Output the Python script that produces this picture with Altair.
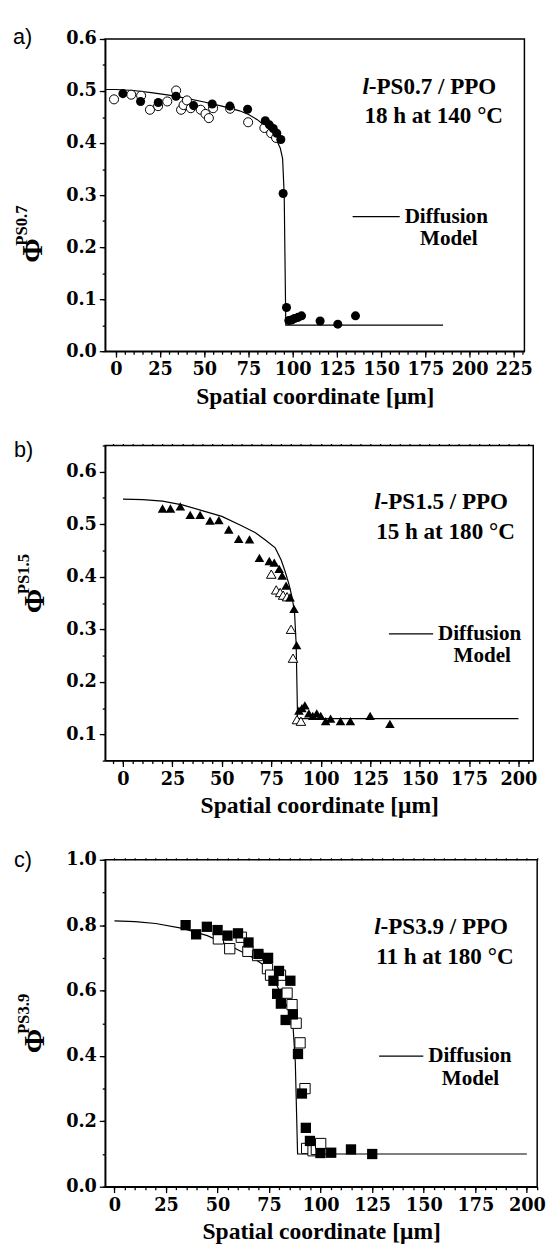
import altair as alt
import pandas as pd

SERIF = "Liberation Serif"
TICKFONT = "DejaVu Serif"
SANS = "Liberation Sans"

# ---------------- Panel a: l-PS0.7 / PPO ----------------
a_curve_x = [-5.5, 0, 10, 20, 30, 40, 50, 60, 70, 75, 80, 85, 88, 91, 93, 94.3, 95.2, 96.1, 185]
a_curve_y = [0.503, 0.503, 0.501, 0.497, 0.492, 0.486, 0.479, 0.471, 0.462, 0.455, 0.445, 0.431,
             0.419, 0.405, 0.390, 0.370, 0.300, 0.050, 0.050]
a_fill_x = [4, 14, 24, 34, 44, 54.5, 64.5, 74.5, 84.5, 86.8, 89, 91, 93.3, 94.6, 96.5, 97.8, 99.3,
            101, 103, 105, 115.5, 125.5, 135.5]
a_fill_y = [0.495, 0.480, 0.478, 0.490, 0.472, 0.475, 0.471, 0.465, 0.443, 0.435, 0.428, 0.419,
            0.407, 0.303, 0.084, 0.059, 0.060, 0.063, 0.065, 0.068, 0.058, 0.052, 0.068]
a_open_x = [-1, 8.7, 14.3, 19.3, 23.9, 29.1, 34.1, 36.9, 38.3, 40.2, 42.4, 48, 50.7, 52.6, 55,
            64.6, 74.8, 84, 87.8, 90.6]
a_open_y = [0.484, 0.493, 0.491, 0.464, 0.471, 0.480, 0.501, 0.464, 0.473, 0.482, 0.467, 0.464,
            0.456, 0.448, 0.467, 0.466, 0.440, 0.429, 0.419, 0.410]

# ---------------- Panel b: l-PS1.5 / PPO ----------------
b_curve_x = [0, 10, 20, 30, 40, 50, 60, 67, 72, 77, 80, 82, 84, 85.7, 86.8, 87.6, 88.3, 200]
b_curve_y = [0.548, 0.547, 0.544, 0.537, 0.526, 0.515, 0.497, 0.484, 0.470, 0.455, 0.432, 0.410,
             0.385, 0.358, 0.330, 0.270, 0.130, 0.130]
b_fill_x = [20, 24, 29, 34, 39, 44, 48.5, 53.5, 58.5, 64, 69, 74, 76.5, 79, 80.5, 82.5, 84.5, 86.5,
            87.8, 89, 90.5, 92, 94, 96, 98, 100, 102.5, 105, 110, 115, 125, 135]
b_fill_y = [0.530, 0.530, 0.534, 0.518, 0.518, 0.507, 0.508, 0.490, 0.472, 0.471, 0.436, 0.430,
            0.427, 0.415, 0.402, 0.383, 0.361, 0.339, 0.270, 0.145, 0.150, 0.155, 0.140, 0.135,
            0.140, 0.135, 0.125, 0.130, 0.125, 0.125, 0.135, 0.120]
b_open_x = [75, 77.5, 79.5, 81, 83, 85, 86, 88, 90]
b_open_y = [0.405, 0.375, 0.370, 0.365, 0.362, 0.300, 0.245, 0.128, 0.125]

# ---------------- Panel c: l-PS3.9 / PPO ----------------
c_curve_x = [0, 10, 20, 33, 45, 55, 66, 72, 76, 80.6, 83, 85.3, 86.5, 87.7, 88.8, 200]
c_curve_y = [0.813, 0.811, 0.805, 0.790, 0.768, 0.740, 0.705, 0.680, 0.655, 0.590, 0.560, 0.530,
             0.500, 0.380, 0.100, 0.100]
c_fill_x = [34.5, 39.6, 44.8, 50, 54.8, 59.9, 65, 69.8, 74.5, 77.1, 78.9, 79.8, 80.7, 83, 85.3,
            86.5, 89, 90.9, 92.8, 94.8, 99.9, 105.1, 114.7, 125]
c_fill_y = [0.800, 0.772, 0.795, 0.785, 0.768, 0.775, 0.747, 0.712, 0.700, 0.630, 0.590, 0.660,
            0.560, 0.510, 0.630, 0.527, 0.406, 0.285, 0.180, 0.140, 0.103, 0.104, 0.114, 0.100]
c_open_x = [50.4, 55.9, 61.5, 64.7, 69.4, 74.2, 75.7, 80.5, 83.7, 86.1, 88.1, 90, 92.4, 93.2,
            96.3, 97.9, 100]
c_open_y = [0.758, 0.728, 0.763, 0.720, 0.707, 0.667, 0.647, 0.647, 0.592, 0.557, 0.500, 0.440,
            0.300, 0.117, 0.110, 0.114, 0.132]

X_TITLE = "Spatial coordinate [μm]"


def steps(lo, hi, step, nd):
    out = []
    k = 0
    while True:
        v = round(lo + k * step, nd)
        if v > hi + 1e-9:
            break
        out.append(v)
        k += 1
    return out


def txt(s, x, y, size=23.5, weight="bold", style="normal", font=SERIF, align="left", angle=0):
    df = pd.DataFrame({"t": [s]})
    kw = dict(font=font, fontSize=size, fontWeight=weight, fontStyle=style, align=align,
              baseline="middle", color="black")
    if angle:
        kw["angle"] = angle
    return alt.Chart(df).mark_text(**kw).encode(x=alt.value(x), y=alt.value(y), text="t:N")


def panel(cx, cy, fx, fy, ox, oy, shape, size, xdom, ydom, w, h, xmaj, xmin, ymaj, ymin,
          yfmt, tag, tag_x, tag_y, l1, l2, tx, ty, lx, ly, mx, phi_sup, phi_x, phi_y, sup_y,
          top_ticks):
    xs = alt.Scale(domain=xdom, nice=False, zero=False)
    ys = alt.Scale(domain=ydom, nice=False, zero=False)
    curve = pd.DataFrame({"x": cx, "y": cy, "i": list(range(len(cx)))})
    filled = pd.DataFrame({"x": fx, "y": fy})
    opened = pd.DataFrame({"x": ox, "y": oy})

    major_x = alt.Axis(orient="bottom", values=xmaj, format="d", title=X_TITLE, tickSize=6,
                       labelPadding=4, titlePadding=6)
    minor_x = alt.Axis(orient="bottom", values=xmin, labels=False, tickSize=3, title=None,
                       domain=False)
    major_y = alt.Axis(orient="left", values=ymaj, format=yfmt, title=None, tickSize=6,
                       labelPadding=3)
    minor_y = alt.Axis(orient="left", values=ymin, labels=False, tickSize=3, title=None,
                       domain=False)

    line = alt.Chart(curve).mark_line(color="black", strokeWidth=1.2).encode(
        x=alt.X("x:Q", scale=xs, axis=major_x),
        y=alt.Y("y:Q", scale=ys, axis=major_y),
        order="i:Q",
    )
    minor = alt.Chart(curve).mark_line(opacity=0).encode(
        x=alt.X("x:Q", scale=xs, axis=minor_x),
        y=alt.Y("y:Q", scale=ys, axis=minor_y),
        order="i:Q",
    )
    layers = [minor, line]
    if top_ticks:
        top = alt.Chart(curve).mark_line(opacity=0).encode(
            x=alt.X("x:Q", scale=xs, axis=alt.Axis(orient="top", values=xmin, labels=False,
                                                  tickSize=2, title=None, domain=False)),
            y=alt.Y("y:Q", scale=ys, axis=None),
            order="i:Q",
        )
        layers.append(top)
    op = alt.Chart(opened).mark_point(shape=shape, filled=False, size=size, fill="white",
                                      fillOpacity=1, stroke="black", strokeWidth=1.0,
                                      opacity=1).encode(
        x=alt.X("x:Q", scale=xs, axis=None), y=alt.Y("y:Q", scale=ys, axis=None))
    fi = alt.Chart(filled).mark_point(shape=shape, filled=True, size=size, color="black",
                                      opacity=1).encode(
        x=alt.X("x:Q", scale=xs, axis=None), y=alt.Y("y:Q", scale=ys, axis=None))
    layers += [op, fi]

    legend_line = alt.Chart(pd.DataFrame({"t": [0]})).mark_rule(
        color="black", strokeWidth=1.2).encode(
        x=alt.value(lx[0]), x2=alt.value(lx[1]), y=alt.value(ly))
    layers += [
        txt(tag, tag_x, tag_y, size=22, weight="normal", font=SANS),
        txt("l", tx, ty, style="italic"),
        txt(l1, tx + 6.5, ty),
        txt(l2, tx + 2, ty + 30),
        legend_line,
        txt("Diffusion", lx[1] + 5, ly, size=21.5),
        txt("Model", mx, ly + 23, size=21.5, align="center"),
        txt("Φ", phi_x, phi_y, size=30, angle=270),
        txt(phi_sup, phi_x - 12, sup_y, size=17, angle=270, align="center"),
    ]
    return alt.layer(*layers).resolve_axis(x="independent", y="independent").properties(
        width=w, height=h)


pa = panel(a_curve_x, a_curve_y, a_fill_x, a_fill_y, a_open_x, a_open_y, "circle", 85,
           [-6, 231], [0, 0.6], 427, 318,
           steps(0, 225, 25, 0), steps(0, 230, 5, 0), steps(0, 0.6, 0.1, 2),
           steps(0, 0.6, 0.05, 3), ".1f",
           "a)", -94, -2, "-PS0.7 / PPO", "18 h at 140 °C", 262, 49,
           (252, 300), 181, 350, "PS0.7", -73, 228, 190, False)

pb = panel(b_curve_x, b_curve_y, b_fill_x, b_fill_y, b_open_x, b_open_y, "triangle-up", 95,
           [-9, 207.5], [0.05, 0.65], 436, 321,
           steps(0, 200, 25, 0), steps(-5, 205, 5, 0), steps(0.1, 0.6, 0.1, 2),
           steps(0.05, 0.65, 0.05, 3), ".1f",
           "b)", -93, 5, "-PS1.5 / PPO", "15 h at 180 °C", 274, 58,
           (289, 334), 192, 384, "PS1.5", -71, 171, 131, True)

pc = panel(c_curve_x, c_curve_y, c_fill_x, c_fill_y, c_open_x, c_open_y, "square", 110,
           [-4.5, 205], [0, 1.0], 440, 333,
           steps(0, 200, 25, 0), steps(0, 205, 5, 0), steps(0, 1.0, 0.2, 2),
           steps(0, 1.0, 0.1, 2), ".1f",
           "c)", -93, 0, "-PS3.9 / PPO", "11 h at 180 °C", 274, 69,
           (279, 324), 200, 372, "PS3.9", -71, 197, 157, True)

chart = alt.vconcat(pa, pb, pc, spacing=30).properties(
    padding={"left": 4, "top": 6, "right": 0, "bottom": 0}
).configure_view(stroke="black", strokeWidth=1.5).configure_axis(
    domainColor="black", domainWidth=1.5, tickColor="black", tickWidth=1.3,
    labelFont=TICKFONT, labelFontSize=18, labelFontWeight="bold", labelColor="black",
    titleFont=SERIF, titleFontSize=24, titleFontWeight="bold", titleColor="black",
    grid=False,
)

chart.save("out.html", embed_options={"renderer": "svg", "actions": False})
